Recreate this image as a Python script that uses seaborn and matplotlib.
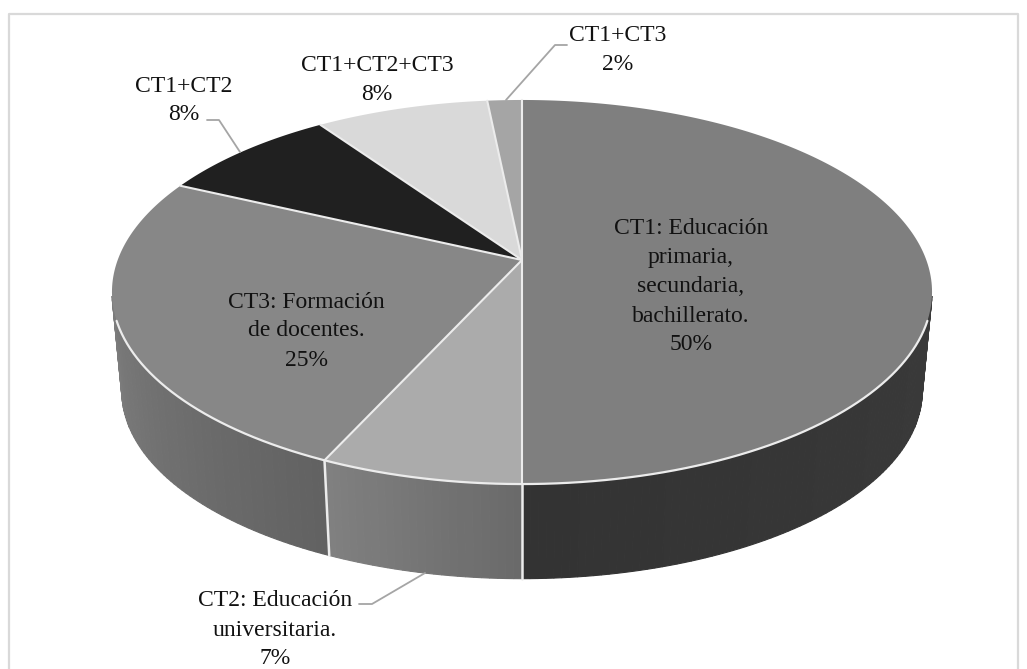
import numpy as np
import seaborn as sns
import matplotlib.pyplot as plt

# slices in drawing order, clockwise from 12 o'clock
slice_names = ['CT1', 'CT2', 'CT3', 'CT1+CT2', 'CT1+CT2+CT3', 'CT1+CT3']
slice_values = [50, 6.8, 25.2, 8.4, 8.0, 1.6]
top_colors = ['#7f7f7f', '#ababab', '#878787', '#202020', '#d9d9d9', '#a5a5a5']
wall_colors = [('#3a3a3a', '#333333'), ('#6a6a6a', '#808080'), ('#626262', '#7c7c7c'),
               ('#111111', '#111111'), ('#777777', '#777777'), ('#555555', '#555555')]
label_texts = ['CT1: Educación\nprimaria,\nsecundaria,\nbachillerato.\n50%',
               'CT2: Educación\nuniversitaria.\n7%',
               'CT3: Formación\nde docentes.\n25%',
               'CT1+CT2\n8%',
               'CT1+CT2+CT3\n8%',
               'CT1+CT3\n2%']
label_pos = [(691, 287), (275, 630), (306, 331), (184, 100.5), (377, 80), (618, 50)]

# pie geometry in image pixels
cx, cy = 522, 260
rx, ry = 404.3, 186.7
persp = -0.1667
depth = 100
shrink = 0.976
edge = '#ececec'


def top_pt(t):
    # t is the clockwise angle from 12 o'clock
    u, v = np.sin(t), -np.cos(t)
    w = 1 + persp * v
    return cx + rx * u / w, cy + ry * v / w


def low_pt(t):
    x, y = top_pt(t)
    return cx + (x - cx) * shrink, cy + depth + (y - cy) * shrink


sns.set_theme(style='white')
plt.rcParams['font.family'] = ['Liberation Serif', 'DejaVu Serif']

fig = plt.figure(figsize=(10.27, 6.69), dpi=100)
ax = fig.add_axes([0, 0, 1, 1])
ax.set_xlim(0, 1027)
ax.set_ylim(669, 0)
ax.axis('off')

# chart frame, cut by the bottom of the image
ax.plot([9, 9, 1018, 1018], [680, 14, 14, 680], color='#d9d9d9', lw=1.6)

cum = np.cumsum([0] + slice_values) / 100 * 2 * np.pi

# side wall, only the part facing the viewer
for i, val in enumerate(slice_values):
    a0, a1 = cum[i], cum[i + 1]
    vis0, vis1 = max(a0, 0.56 * np.pi), min(a1, 1.44 * np.pi)
    if vis1 <= vis0:
        continue
    n = max(int((vis1 - vis0) * 60), 2)
    ts = np.linspace(vis0, vis1, n + 1)
    pal = sns.blend_palette(list(wall_colors[i]), n)
    for j in range(n):
        xa, ya = top_pt(ts[j])
        xb, yb = top_pt(ts[j + 1])
        xc, yc = low_pt(ts[j + 1])
        xd, yd = low_pt(ts[j])
        ax.fill([xa, xb, xc, xd], [ya, yb, yc, yd], color=pal[j], lw=0.8, zorder=2)

# white seams on the wall
for a in cum[1:3]:
    xa, ya = top_pt(a)
    xb, yb = low_pt(a)
    ax.plot([xa, xb], [ya, yb], color=edge, lw=1.8, zorder=3)

# top face
for i, val in enumerate(slice_values):
    ts = np.linspace(cum[i], cum[i + 1], max(int(val * 4), 8))
    xs, ys = top_pt(ts)
    ax.fill(np.r_[cx, xs], np.r_[cy, ys], color=top_colors[i], lw=0, zorder=4)

for a in cum[:-1]:
    xa, ya = top_pt(a)
    ax.plot([cx, xa], [cy, ya], color=edge, lw=1.5, zorder=5)

# light rim along the front edge
ts = np.linspace(0.6 * np.pi, 1.4 * np.pi, 300)
xs, ys = top_pt(ts)
ax.plot(xs, ys, color=edge, lw=1.6, zorder=5)

# leader lines
leaders = [([207, 219, 240], [120, 120, 152]),
           ([567, 555, 506], [45, 45, 100]),
           ([359, 372, 425], [604, 604, 573])]
for lx, ly in leaders:
    ax.plot(lx, ly, color='#a5a5a5', lw=1.3, zorder=6)

for txt, (x, y) in zip(label_texts, label_pos):
    ax.text(x, y, txt, ha='center', va='center', fontsize=17,
            linespacing=1.5, color='#111111', zorder=7)

plt.savefig('out.png', dpi=100)
